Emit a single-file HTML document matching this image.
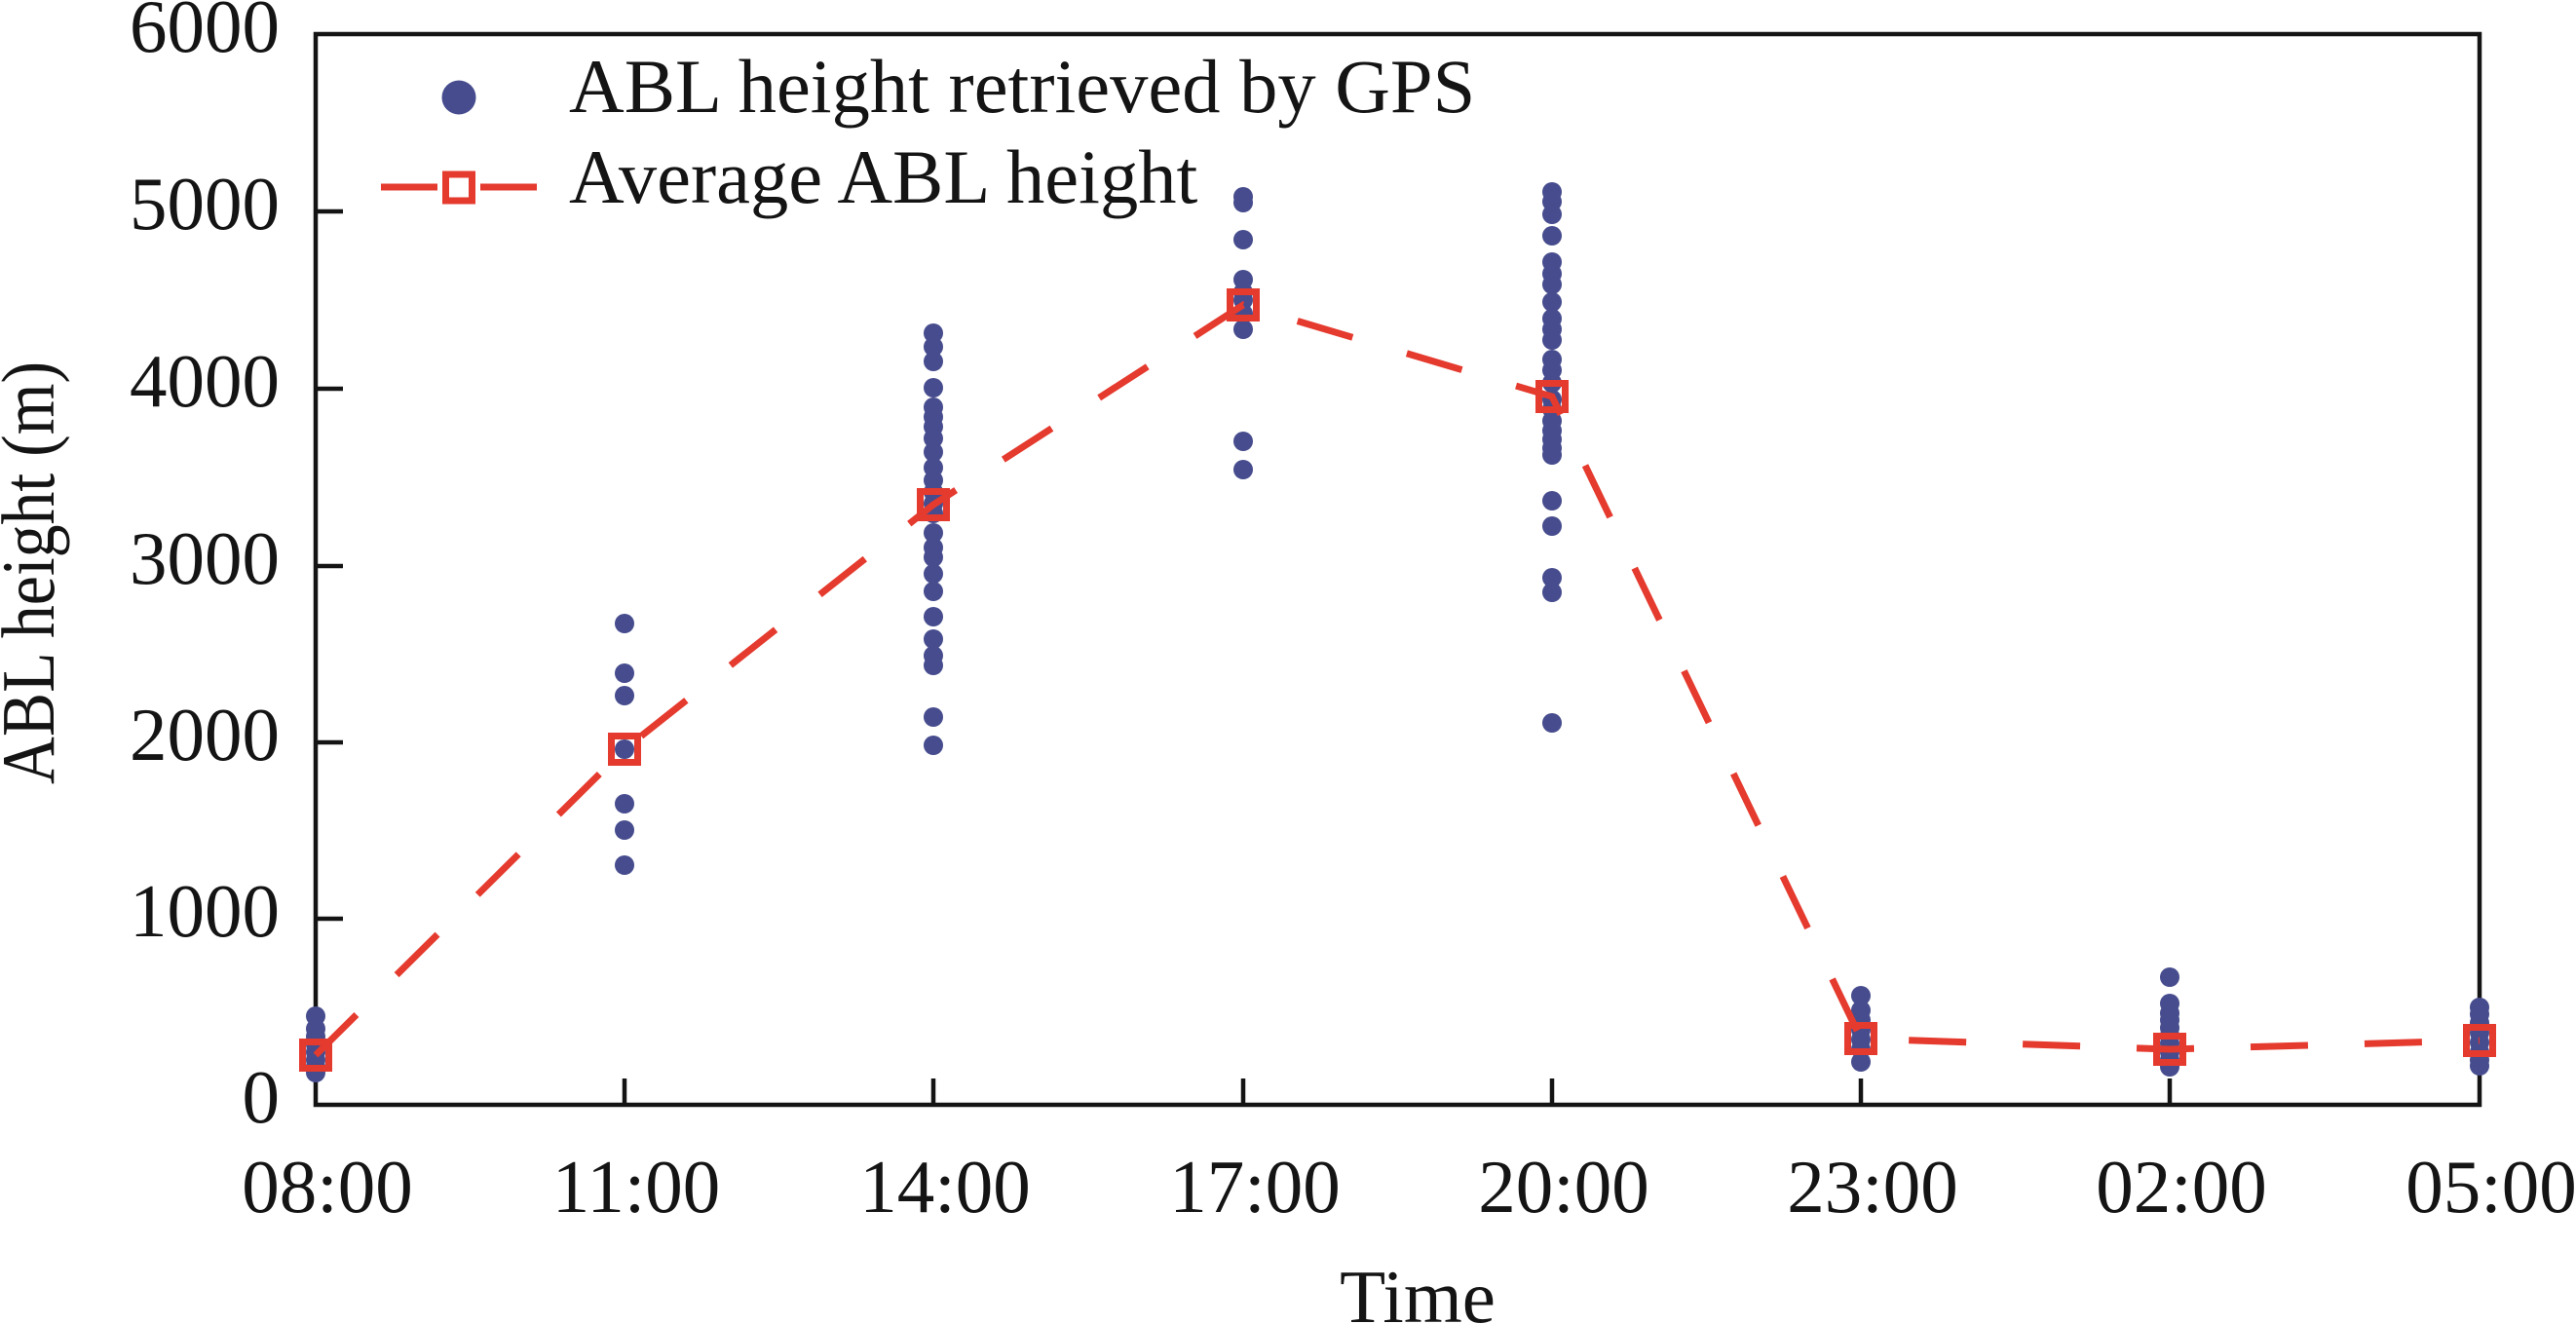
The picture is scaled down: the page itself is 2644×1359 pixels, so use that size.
<!DOCTYPE html>
<html>
<head>
<meta charset="utf-8">
<style>
html,body{margin:0;padding:0;background:#fff;}
svg{display:block;}
text{font-family:"Liberation Serif","Times New Roman",serif;fill:#141414;}
</style>
</head>
<body>
<svg width="2644" height="1359" viewBox="0 0 2644 1359" xmlns="http://www.w3.org/2000/svg">
<rect x="0" y="0" width="2644" height="1359" fill="#fff"/>

<!-- frame -->
<rect x="324" y="35" width="2221" height="1099" fill="none" stroke="#141414" stroke-width="4.5"/>

<!-- y ticks -->
<g stroke="#141414" stroke-width="4.5">
<line x1="324" y1="217" x2="352" y2="217"/>
<line x1="324" y1="399" x2="352" y2="399"/>
<line x1="324" y1="581" x2="352" y2="581"/>
<line x1="324" y1="762" x2="352" y2="762"/>
<line x1="324" y1="943" x2="352" y2="943"/>
<!-- x ticks -->
<line x1="641" y1="1134" x2="641" y2="1107"/>
<line x1="958" y1="1134" x2="958" y2="1107"/>
<line x1="1276" y1="1134" x2="1276" y2="1107"/>
<line x1="1593" y1="1134" x2="1593" y2="1107"/>
<line x1="1910" y1="1134" x2="1910" y2="1107"/>
<line x1="2227" y1="1134" x2="2227" y2="1107"/>
</g>

<!-- y tick labels -->
<g font-size="77" text-anchor="end">
<text x="287" y="53">6000</text>
<text x="287" y="235">5000</text>
<text x="287" y="417">4000</text>
<text x="287" y="599">3000</text>
<text x="287" y="780">2000</text>
<text x="287" y="961">1000</text>
<text x="287" y="1152">0</text>
</g>

<!-- x tick labels -->
<g font-size="77" text-anchor="middle">
<text x="336" y="1244">08:00</text>
<text x="653" y="1244">11:00</text>
<text x="970" y="1244">14:00</text>
<text x="1288" y="1244">17:00</text>
<text x="1605" y="1244">20:00</text>
<text x="1922" y="1244">23:00</text>
<text x="2239" y="1244">02:00</text>
<text x="2557" y="1244">05:00</text>
</g>

<!-- axis titles -->
<text x="1455" y="1357" font-size="77" text-anchor="middle">Time</text>
<text transform="translate(55,805) rotate(-90)" font-size="77" textLength="434" lengthAdjust="spacingAndGlyphs">ABL height (m)</text>

<!-- data dots -->
<g fill="#464C8D">
<!-- 08:00 -->
<circle cx="324" cy="1043" r="10"/><circle cx="324" cy="1056" r="10"/><circle cx="324" cy="1064" r="10"/>
<circle cx="324" cy="1072" r="10"/><circle cx="324" cy="1080" r="10"/><circle cx="324" cy="1088" r="10"/>
<circle cx="324" cy="1095" r="10"/><circle cx="324" cy="1101" r="10"/>
<!-- 11:00 -->
<circle cx="641" cy="640" r="10"/><circle cx="641" cy="691" r="10"/><circle cx="641" cy="714" r="10"/>
<circle cx="641" cy="769" r="10"/><circle cx="641" cy="825" r="10"/><circle cx="641" cy="852" r="10"/>
<circle cx="641" cy="888" r="10"/>
<!-- 14:00 -->
<circle cx="958" cy="342" r="10"/><circle cx="958" cy="356" r="10"/><circle cx="958" cy="371" r="10"/>
<circle cx="958" cy="398" r="10"/><circle cx="958" cy="418" r="10"/><circle cx="958" cy="428" r="10"/>
<circle cx="958" cy="438" r="10"/><circle cx="958" cy="450" r="10"/><circle cx="958" cy="464" r="10"/>
<circle cx="958" cy="480" r="10"/><circle cx="958" cy="493" r="10"/><circle cx="958" cy="505" r="10"/>
<circle cx="958" cy="517" r="10"/><circle cx="958" cy="527" r="10"/><circle cx="958" cy="547" r="10"/>
<circle cx="958" cy="562" r="10"/><circle cx="958" cy="572" r="10"/><circle cx="958" cy="589" r="10"/>
<circle cx="958" cy="607" r="10"/><circle cx="958" cy="633" r="10"/><circle cx="958" cy="656" r="10"/>
<circle cx="958" cy="673" r="10"/><circle cx="958" cy="683" r="10"/><circle cx="958" cy="736" r="10"/>
<circle cx="958" cy="765" r="10"/>
<!-- 17:00 -->
<circle cx="1276" cy="202" r="10"/><circle cx="1276" cy="208" r="10"/><circle cx="1276" cy="246" r="10"/>
<circle cx="1276" cy="287" r="10"/><circle cx="1276" cy="300" r="10"/><circle cx="1276" cy="308" r="10"/>
<circle cx="1276" cy="322" r="10"/><circle cx="1276" cy="338" r="10"/><circle cx="1276" cy="453" r="10"/>
<circle cx="1276" cy="482" r="10"/>
<!-- 20:00 -->
<circle cx="1593" cy="197" r="10"/><circle cx="1593" cy="207" r="10"/><circle cx="1593" cy="220" r="10"/>
<circle cx="1593" cy="242" r="10"/><circle cx="1593" cy="269" r="10"/><circle cx="1593" cy="281" r="10"/>
<circle cx="1593" cy="292" r="10"/><circle cx="1593" cy="310" r="10"/><circle cx="1593" cy="327" r="10"/>
<circle cx="1593" cy="338" r="10"/><circle cx="1593" cy="349" r="10"/><circle cx="1593" cy="369" r="10"/>
<circle cx="1593" cy="380" r="10"/><circle cx="1593" cy="393" r="10"/><circle cx="1593" cy="410" r="10"/>
<circle cx="1593" cy="420" r="10"/><circle cx="1593" cy="432" r="10"/><circle cx="1593" cy="442" r="10"/>
<circle cx="1593" cy="451" r="10"/><circle cx="1593" cy="460" r="10"/><circle cx="1593" cy="467" r="10"/>
<circle cx="1593" cy="514" r="10"/><circle cx="1593" cy="540" r="10"/><circle cx="1593" cy="593" r="10"/>
<circle cx="1593" cy="608" r="10"/><circle cx="1593" cy="742" r="10"/>
<!-- 23:00 -->
<circle cx="1910" cy="1022" r="10"/><circle cx="1910" cy="1037" r="10"/><circle cx="1910" cy="1047" r="10"/>
<circle cx="1910" cy="1057" r="10"/><circle cx="1910" cy="1067" r="10"/><circle cx="1910" cy="1077" r="10"/>
<circle cx="1910" cy="1090" r="10"/>
<!-- 02:00 -->
<circle cx="2227" cy="1003" r="10"/><circle cx="2227" cy="1030" r="10"/><circle cx="2227" cy="1040" r="10"/>
<circle cx="2227" cy="1047" r="10"/><circle cx="2227" cy="1055" r="10"/><circle cx="2227" cy="1063" r="10"/>
<circle cx="2227" cy="1071" r="10"/><circle cx="2227" cy="1080" r="10"/><circle cx="2227" cy="1088" r="10"/>
<circle cx="2227" cy="1095" r="10"/>
<!-- 05:00 -->
<circle cx="2545" cy="1034" r="10"/><circle cx="2545" cy="1041" r="10"/><circle cx="2545" cy="1050" r="10"/>
<circle cx="2545" cy="1060" r="10"/><circle cx="2545" cy="1070" r="10"/><circle cx="2545" cy="1080" r="10"/>
<circle cx="2545" cy="1088" r="10"/><circle cx="2545" cy="1094" r="10"/>
</g>

<!-- average dashed line -->
<polyline points="324,1083 641,769 958,518 1276,313 1593,407 1910,1066 2227,1077 2545,1068"
 fill="none" stroke="#E53A2E" stroke-width="7" stroke-dasharray="59 58" stroke-linecap="butt" stroke-linejoin="miter"/>

<!-- average squares -->
<g fill="none" stroke="#E53A2E" stroke-width="7">
<rect x="310.5" y="1069.5" width="27" height="27"/>
<rect x="627.5" y="755.5" width="27" height="27"/>
<rect x="944.5" y="504.5" width="27" height="27"/>
<rect x="1262.5" y="299.5" width="27" height="27"/>
<rect x="1579.5" y="393.5" width="27" height="27"/>
<rect x="1896.5" y="1052.5" width="27" height="27"/>
<rect x="2213.5" y="1063.5" width="27" height="27"/>
<rect x="2531.5" y="1054.5" width="27" height="27"/>
</g>

<!-- legend -->
<circle cx="471" cy="100" r="17.5" fill="#464C8D"/>
<line x1="391" y1="192" x2="449" y2="192" stroke="#E53A2E" stroke-width="7"/>
<line x1="493" y1="192" x2="551" y2="192" stroke="#E53A2E" stroke-width="7"/>
<rect x="457.5" y="179" width="27" height="27" fill="#fff" stroke="#E53A2E" stroke-width="7"/>
<text x="584" y="115" font-size="78.5">ABL height retrieved by GPS</text>
<text x="584" y="208" font-size="78.5">Average ABL height</text>
</svg>
</body>
</html>
